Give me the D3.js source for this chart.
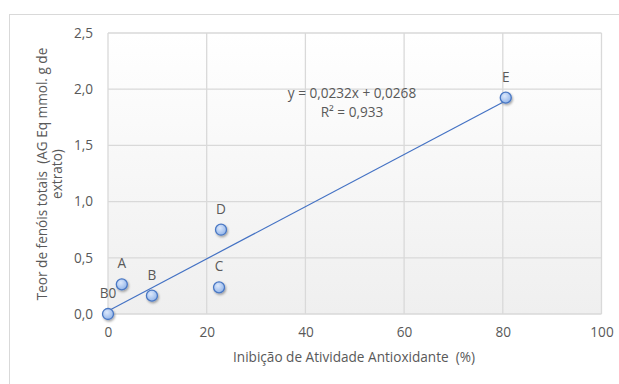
<!DOCTYPE html>
<html>
<head>
<meta charset="utf-8">
<script src="https://cdn.jsdelivr.net/npm/d3@7"></script>
<style>
  html, body { margin: 0; padding: 0; background: #fff; }
  svg { display: block; font-family: "Open Sans", sans-serif; }
  svg text { white-space: pre; }
</style>
</head>
<body>
<svg id="chart" width="619" height="384"></svg>
<script>
// Sample data: antioxidant inhibition (%) vs total phenol content
const sampleNames = ["B0", "A", "B", "C", "D", "E"];
const inhibition = [0, 2.8, 8.9, 22.5, 22.9, 80.6];
const phenols = [0, 0.264, 0.163, 0.237, 0.75, 1.925];

// Linear trendline reported on the chart
const slope = 0.0232;
const intercept = 0.0268;
const equationText = "y = 0,0232x + 0,0268";
const r2Text = "R² = 0,933";

const xTicks = [0, 20, 40, 60, 80, 100];
const yTicks = [0, 0.5, 1.0, 1.5, 2.0, 2.5];

const xTitle = "Inibição de Atividade Antioxidante  (%)";
const yTitleLines = ["Teor de fenóis totais  (AG Eq mmol. g de", "extrato)"];

const svg = d3.select("#chart");
const fmt = d => d3.format(".1f")(d).replace(".", ",");
const textColor = "#595959";
const gridColor = "#d9d9d9";
const fontSize = "13.6px";

const plot = { left: 108, top: 33, right: 601.5, bottom: 314 };

const x = d3.scaleLinear().domain([0, 100]).range([plot.left, plot.right]);
const y = d3.scaleLinear().domain([0, 2.5]).range([plot.bottom, plot.top]);

const defs = svg.append("defs");
const bg = defs.append("linearGradient").attr("id", "plotBg")
  .attr("x1", 0).attr("y1", 0).attr("x2", 0).attr("y2", 1);
bg.append("stop").attr("offset", "0%").attr("stop-color", "#ffffff");
bg.append("stop").attr("offset", "100%").attr("stop-color", "#efefef");

const mk = defs.append("radialGradient").attr("id", "markerFill")
  .attr("cx", "40%").attr("cy", "35%").attr("r", "65%");
mk.append("stop").attr("offset", "0%").attr("stop-color", "#dce8fb");
mk.append("stop").attr("offset", "100%").attr("stop-color", "#94b6ea");

const shadow = defs.append("filter").attr("id", "shadow")
  .attr("x", "-50%").attr("y", "-50%").attr("width", "200%").attr("height", "200%");
shadow.append("feDropShadow").attr("dx", 1).attr("dy", 1.5)
  .attr("stdDeviation", 1).attr("flood-color", "#000").attr("flood-opacity", 0.35);

// Chart frame
svg.append("rect")
  .attr("x", 9.5).attr("y", 14.5).attr("width", 700).attr("height", 500)
  .attr("fill", "#fff").attr("stroke", gridColor).attr("stroke-width", 1);

// Plot background
svg.append("rect")
  .attr("x", plot.left).attr("y", plot.top)
  .attr("width", plot.right - plot.left).attr("height", plot.bottom - plot.top)
  .attr("fill", "url(#plotBg)");

// Grid lines
const grid = svg.append("g").attr("stroke", gridColor).attr("stroke-width", 1.3);
xTicks.forEach(t => grid.append("line")
  .attr("x1", x(t)).attr("x2", x(t)).attr("y1", plot.top).attr("y2", plot.bottom));
yTicks.forEach(t => grid.append("line")
  .attr("x1", plot.left).attr("x2", plot.right).attr("y1", y(t)).attr("y2", y(t)));

// Axes (labels only, lines hidden)
const xAxis = svg.append("g")
  .attr("transform", `translate(0,${plot.bottom})`)
  .call(d3.axisBottom(x).tickValues(xTicks).tickSize(0).tickPadding(13).tickFormat(d3.format("d")));
const yAxis = svg.append("g")
  .attr("transform", `translate(${plot.left},0)`)
  .call(d3.axisLeft(y).tickValues(yTicks).tickSize(0).tickPadding(15).tickFormat(fmt));
[xAxis, yAxis].forEach(a => {
  a.select(".domain").remove();
  a.selectAll("text").attr("fill", textColor).style("font-size", fontSize)
    .style("font-family", "'Open Sans', sans-serif");
});

// Axis titles
svg.append("text")
  .attr("x", 354).attr("y", 362)
  .attr("text-anchor", "middle").attr("fill", textColor).style("font-size", fontSize)
  .text(xTitle);

const yt = svg.append("text")
  .attr("transform", "translate(47,174) rotate(-90)")
  .attr("text-anchor", "middle").attr("fill", textColor).style("font-size", fontSize);
yTitleLines.forEach((l, i) => yt.append("tspan")
  .attr("x", 0).attr("dy", i === 0 ? 0 : 15).text(l));

// Trendline across the data range
const xMin = d3.min(inhibition), xMax = d3.max(inhibition);
svg.append("line")
  .attr("x1", x(xMin)).attr("y1", y(slope * xMin + intercept))
  .attr("x2", x(xMax)).attr("y2", y(slope * xMax + intercept))
  .attr("stroke", "#4472c4").attr("stroke-width", 1.2);

// Points
const pts = sampleNames.map((n, i) => ({ name: n, x: inhibition[i], y: phenols[i] }));
svg.append("g").selectAll("circle").data(pts).join("circle")
  .attr("cx", d => x(d.x)).attr("cy", d => y(d.y)).attr("r", 5.5)
  .attr("fill", "url(#markerFill)").attr("stroke", "#4a78c4").attr("stroke-width", 1.3)
  .attr("filter", "url(#shadow)");

// Point labels
svg.append("g").selectAll("text").data(pts).join("text")
  .attr("x", d => x(d.x)).attr("y", d => y(d.y) - 16)
  .attr("text-anchor", "middle").attr("fill", textColor).style("font-size", fontSize)
  .text(d => d.name);

// Trendline equation
svg.append("text").attr("x", 352).attr("y", 98)
  .attr("text-anchor", "middle").attr("fill", textColor).style("font-size", fontSize)
  .text(equationText);
svg.append("text").attr("x", 352).attr("y", 117)
  .attr("text-anchor", "middle").attr("fill", textColor).style("font-size", fontSize)
  .text(r2Text);
</script>
</body>
</html>
